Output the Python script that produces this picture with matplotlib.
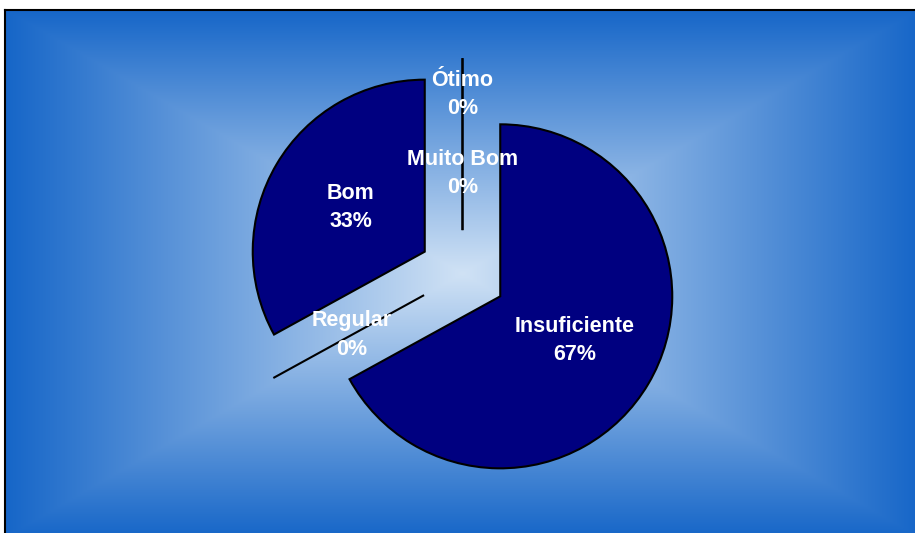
import numpy as np
import matplotlib.pyplot as plt

# data
categories = ['Ótimo', 'Muito Bom', 'Bom', 'Regular', 'Insuficiente']
values = [0, 0, 33, 0, 67]
pct_labels = ['0%', '0%', '33%', '0%', '67%']
label_dist = [0.79, 0.33, 0.50, 0.48, 0.50]

W, H = 915, 533
fig = plt.figure(figsize=(W / 100, H / 100), dpi=100)
fig.patch.set_facecolor('white')

# background: rectangular gradient from centre
bg = fig.add_axes([5 / W, -0.01, 1.0, (H - 10) / H + 0.01])
ny, nx = 300, 500
yy, xx = np.mgrid[-1:1:ny * 1j, -1:1:nx * 1j]
t = np.maximum(np.abs(xx), np.abs(yy))
edge = np.array([22, 102, 200]) / 255
centre = np.array([208, 226, 245]) / 255
img = centre[None, None, :] * (1 - t[..., None]) + edge[None, None, :] * t[..., None]
bg.imshow(img, extent=[0, 1, 0, 1], aspect='auto', interpolation='bilinear')
bg.set_xlim(0, 1)
bg.set_ylim(0, 1)
bg.set_xticks([])
bg.set_yticks([])
for s in ['right', 'bottom']:
    bg.spines[s].set_visible(False)
for s in ['left', 'top']:
    bg.spines[s].set_linewidth(1.5)
    bg.spines[s].set_color('black')

# pie axes, 1 data unit = r_px pixels
ax = fig.add_axes([0, 0, 1, 1])
ax.patch.set_visible(False)
r_px = 172
cx, cy = 462.5, H - 274
wedges, _ = ax.pie(values, explode=[0.255] * 5, startangle=90, counterclock=True,
                   colors=['#000080'] * 5, radius=1,
                   wedgeprops=dict(edgecolor='black', linewidth=1.5))
ax.set_aspect('auto')
ax.set_xlim(-cx / r_px, (W - cx) / r_px)
ax.set_ylim(-cy / r_px, (H - cy) / r_px)
ax.axis('off')

for w, name, pct, d in zip(wedges, categories, pct_labels, label_dist):
    ang = np.deg2rad((w.theta1 + w.theta2) / 2)
    x0, y0 = w.center
    ax.text(x0 + d * np.cos(ang), y0 + d * np.sin(ang), name + '\n' + pct,
            ha='center', va='center', color='white', fontsize=15.5,
            fontweight='bold', family='Liberation Sans', linespacing=1.45)

fig.savefig('out.png', dpi=100)
